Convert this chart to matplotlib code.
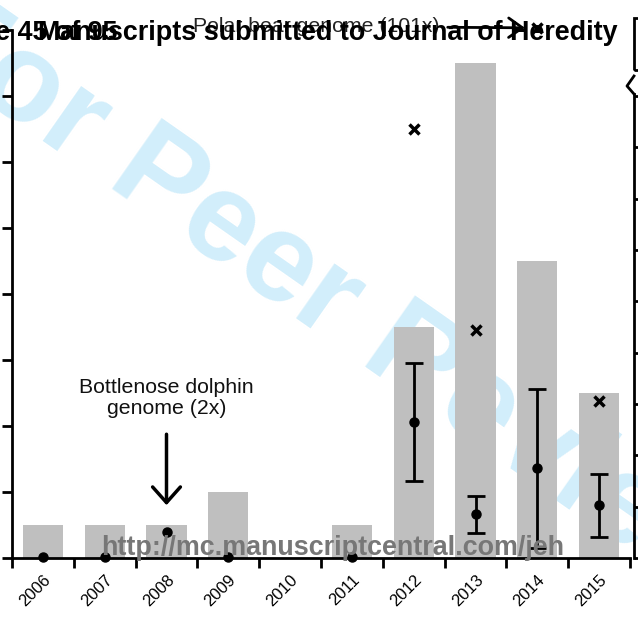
import matplotlib.pyplot as plt
from matplotlib.lines import Line2D
from matplotlib.patches import Rectangle

plt.rcParams['font.family'] = ['Liberation Sans', 'DejaVu Sans']

# Data
years = ['2006', '2007', '2008', '2009', '2010', '2011', '2012', '2013', '2014', '2015']
manuscripts = [1, 1, 1, 2, 0, 1, 7, 15, 9, 5]
mean_cov = [0.1, 0.1, 2.0, 0.1, None, 0.1, 10.6, 3.4, 7.0, 4.1]
err_cov = [0, 0, 0, 0, 0, 0, 4.6, 1.45, 6.2, 2.45]
max_years = [6, 7, 9]
max_cov = [33.4, 17.8, 12.2]
polar_bear_year = 8
polar_bear_cov = 101

W, H = 638, 618
fig = plt.figure(figsize=(W / 100, H / 100), dpi=100)


def px(x, y):
    return x / W, 1 - y / H


# main axes (manuscripts, left scale)
left, right, bottom, top = 12 / W, 630 / W, 1 - 558 / H, 1 - 30 / H
ax = fig.add_axes([left, bottom, right - left, top - bottom])
ax.patch.set_visible(False)
x = list(range(len(years)))
ax.bar(x, manuscripts, width=0.65, color='#bfbfbf', zorder=1)
ax.set_xlim(-0.5, len(years) - 0.5)
ax.set_ylim(0, 16)
ax.set_yticks(range(0, 17, 2))
ax.set_yticklabels([])
ax.set_xticks([i - 0.5 for i in range(len(years) + 1)])
ax.set_xticklabels([])
ax.set_xticks(x, minor=True)
ax.set_xticklabels(years, minor=True, rotation=45, ha='right', rotation_mode='anchor', fontsize=12)
ax.tick_params(axis='x', which='minor', length=0, pad=10)
ax.tick_params(axis='both', which='major', length=7, width=2, direction='out')
for s in ['top', 'right']:
    ax.spines[s].set_visible(False)
for s in ['left', 'bottom']:
    ax.spines[s].set_linewidth(2)

# coverage (right scale)
ax2 = ax.twinx()
ax2.patch.set_visible(False)
ax2.set_ylim(0, 41.15)
ax2.set_yticks(range(0, 37, 4))
ax2.set_yticklabels([])
ax2.tick_params(axis='y', length=7, width=2, direction='out')
for s in ['top', 'left', 'bottom']:
    ax2.spines[s].set_visible(False)
ax2.spines['right'].set_position(('outward', 3))
ax2.spines['right'].set_linewidth(2)
ax2.spines['right'].set_bounds(0, 36.2)

mx = [i for i, m in enumerate(mean_cov) if m is not None]
my = [mean_cov[i] for i in mx]
ax2.plot(mx, my, 'o', color='black', ms=6.5, zorder=4, clip_on=False)
ex = [i for i in mx if err_cov[i] > 0]
ax2.errorbar(ex, [mean_cov[i] for i in ex], yerr=[err_cov[i] for i in ex], fmt='none',
             ecolor='black', elinewidth=2, capsize=6.5, capthick=2, zorder=4)
ax2.plot(max_years, max_cov, 'x', color='black', ms=7, mew=2.5, zorder=4)

# broken-axis part for the polar bear
ax3 = fig.add_axes([left, 1 - 72 / H, right - left, 54 / H])
ax3.set_xlim(-0.5, len(years) - 0.5)
ax3.set_ylim(92, 103)
ax3.axis('off')
ax3.plot([polar_bear_year], [polar_bear_cov], 'x', color='black', ms=7, mew=2.5, clip_on=False)
ax3.annotate('Polar bear genome (101x)', xy=(polar_bear_year - 0.2, polar_bear_cov),
             xytext=(4.42, polar_bear_cov + 0.3), ha='center', va='center', fontsize=15.3, color='#222222',
             arrowprops=dict(arrowstyle='->,head_length=0.5,head_width=0.35', lw=2, color='black',
                             mutation_scale=20, shrinkA=4, shrinkB=0))

# dolphin annotation
ax.text(2, 4.85, 'Bottlenose dolphin\ngenome (2x)', ha='center', va='center', fontsize=15.3,
        linespacing=1.1, color='#111111')
ax.annotate('', xy=(2, 1.6), xytext=(2, 3.75),
            arrowprops=dict(arrowstyle='->,head_length=0.45,head_width=0.4', lw=2.5, color='black',
                            mutation_scale=25, shrinkA=0, shrinkB=0))

# decoration on right edge (legend box / axis break)
fig.add_artist(Rectangle(px(634, 70), 30 / W, 52 / H, fill=False, lw=2, ec='black',
                         transform=fig.transFigure))
xs, ys = zip(*[px(634, 76), px(627, 86), px(634, 94)])
fig.add_artist(Line2D(xs, ys, color='black', lw=2, transform=fig.transFigure))

# watermark
fig.text(*px(330, 302), 'For Peer Review', rotation=-35, fontsize=91, fontweight='bold',
         color='#d2eefb', ha='center', va='center', zorder=-1)

# page header / footer text
fig.text(*px(328, 33), 'Manuscripts submitted to Journal of Heredity', fontsize=19.4,
         fontweight='bold', ha='center', va='center')
fig.text(*px(118, 33), 'Page 45 of 95', fontsize=19.4, fontweight='bold', ha='right', va='center')
fig.text(*px(333, 548), 'http://mc.manuscriptcentral.com/jeh', fontsize=19.4, fontweight='bold',
         color='#777777', ha='center', va='center', zorder=10)

fig.savefig('out.png', dpi=100)
